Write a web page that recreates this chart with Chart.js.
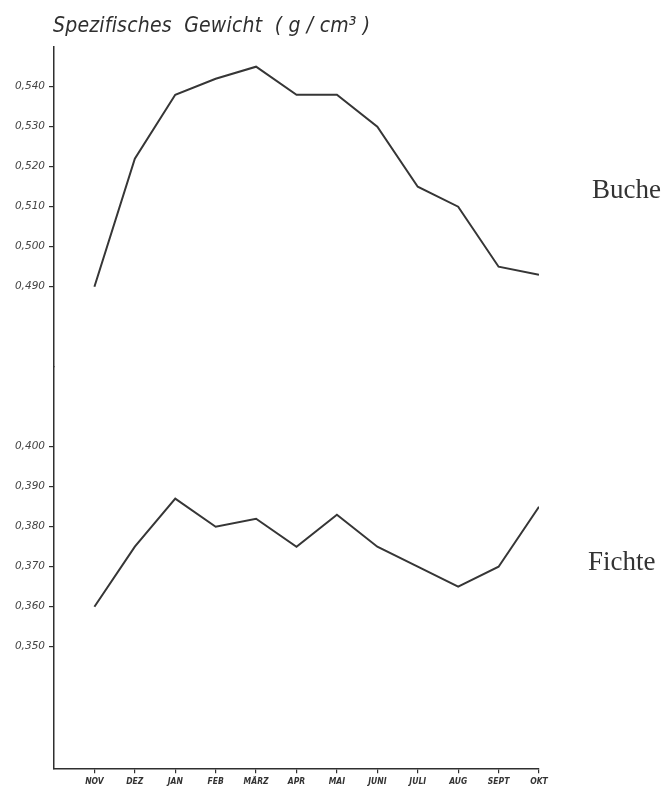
<!DOCTYPE html>
<html>
<head>
<meta charset="utf-8">
<script src="https://cdn.jsdelivr.net/npm/chart.js@4.4.1/dist/chart.umd.min.js"></script>
<style>
  html, body { margin: 0; padding: 0; background: #fff; }
  #wrap { width: 667px; height: 789px; }
</style>
</head>
<body>
<div id="wrap"><canvas id="chart" width="667" height="789"></canvas></div>
<script>
// data
const months = ['NOV', 'DEZ', 'JAN', 'FEB', 'MÄRZ', 'APR', 'MAI', 'JUNI', 'JULI', 'AUG', 'SEPT', 'OKT'];
const bucheValues = [0.490, 0.522, 0.538, 0.542, 0.545, 0.538, 0.538, 0.530, 0.515, 0.510, 0.495, 0.493];
const fichteValues = [0.360, 0.375, 0.387, 0.380, 0.382, 0.375, 0.383, 0.375, 0.370, 0.365, 0.370, 0.385];
const bucheTicks = [0.490, 0.500, 0.510, 0.520, 0.530, 0.540];
const fichteTicks = [0.350, 0.360, 0.370, 0.380, 0.390, 0.400];
const titleText = 'Spezifisches  Gewicht  ( g / cm³ )';
const seriesNames = ['Buche', 'Fichte'];

const ink = '#2f2f2f';

function toPoints(values) {
    return values.map((v, i) => ({ x: i, y: v }));
}

function fmtTick(value) {
    return value.toFixed(3).replace('.', ',');
}

// title and the two series names
const textPlugin = {
    id: 'textPlugin',
    afterDraw(chart) {
        const ctx = chart.ctx;
        const area = chart.chartArea;
        ctx.save();
        ctx.fillStyle = ink;
        ctx.textBaseline = 'alphabetic';
        ctx.font = "italic 21px 'Liberation Sans Narrow', 'DejaVu Sans Condensed', sans-serif";
        ctx.letterSpacing = '0.2px';
        ctx.fillText(titleText, area.left - 1, 32);
        ctx.letterSpacing = '0px';

        ctx.font = "27px 'Liberation Serif', serif";
        ctx.fillStyle = '#333';
        ctx.fillText(seriesNames[0], area.right + 53, 198);
        ctx.fillText(seriesNames[1], area.right + 49, 570);
        ctx.restore();
    }
};

const yAxisBase = {
    type: 'linear',
    position: 'left',
    stack: 'v',
    border: { display: true, color: ink, width: 1.5 },
    grid: { drawOnChartArea: false, drawTicks: true, tickLength: 5, color: ink, lineWidth: 1.2 },
    ticks: {
        color: '#444',
        padding: 4,
        font: { family: "'DejaVu Sans'", style: 'italic', size: 10.5 },
        callback: (value) => fmtTick(value)
    },
    afterFit: (scale) => { scale.width = 54; }
};

new Chart(document.getElementById('chart'), {
    type: 'line',
    data: {
        datasets: [
            {
                label: seriesNames[0],
                data: toPoints(bucheValues),
                yAxisID: 'yB',
                borderColor: '#363636',
                borderWidth: 2,
                pointRadius: 0,
                tension: 0
            },
            {
                label: seriesNames[1],
                data: toPoints(fichteValues),
                yAxisID: 'yF',
                borderColor: '#363636',
                borderWidth: 2,
                pointRadius: 0,
                tension: 0
            }
        ]
    },
    options: {
        responsive: false,
        animation: false,
        layout: { padding: { left: 0, right: 128, top: 46.7, bottom: 0 } },
        plugins: {
            legend: { display: false },
            tooltip: { enabled: false },
            title: { display: false }
        },
        scales: {
            x: {
                type: 'linear',
                min: -1,
                max: 11,
                border: { display: true, color: ink, width: 1.5 },
                grid: { drawOnChartArea: false, drawTicks: true, tickLength: 5, color: ink, lineWidth: 1.2 },
                afterBuildTicks: (scale) => {
                    scale.ticks = months.map((m, i) => ({ value: i }));
                },
                ticks: {
                    color: '#333',
                    padding: 3,
                    autoSkip: false,
                    maxRotation: 0,
                    font: { family: "'Liberation Sans Narrow', 'DejaVu Sans Condensed', sans-serif", style: 'italic', weight: 'bold', size: 8.5 },
                    callback: (value) => months[value]
                },
                afterFit: (scale) => { scale.height = 789 - 768.3; }
            },
            // the lower part of the broken axis is listed first: stacked left axes are placed bottom-up
            yF: Object.assign({}, yAxisBase, {
                min: 0.3196,
                max: 0.420,
                stackWeight: 401.6,
                afterBuildTicks: (scale) => {
                    scale.ticks = fichteTicks.map(v => ({ value: v }));
                }
            }),
            yB: Object.assign({}, yAxisBase, {
                min: 0.470,
                max: 0.550,
                stackWeight: 320,
                afterBuildTicks: (scale) => {
                    scale.ticks = bucheTicks.map(v => ({ value: v }));
                }
            })
        }
    },
    plugins: [textPlugin]
});
</script>
</body>
</html>
